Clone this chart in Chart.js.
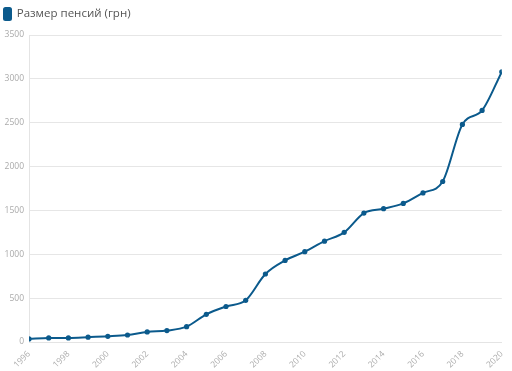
<!DOCTYPE html>
<html>
<head>
<meta charset="utf-8">
<script src="https://cdn.jsdelivr.net/npm/chart.js@4"></script>
<style>
  html, body { margin: 0; padding: 0; background: #fff; }
  #wrap { width: 512px; height: 371px; }
</style>
</head>
<body>
<div id="wrap"><canvas id="chart"></canvas></div>
<script>
const years = [1996, 1997, 1998, 1999, 2000, 2001, 2002, 2003, 2004, 2005, 2006, 2007, 2008,
  2009, 2010, 2011, 2012, 2013, 2014, 2015, 2016, 2017, 2018, 2019, 2020];
const pensions = [35, 47, 47, 55, 65, 80, 115, 130, 175, 315, 405, 475, 775,
  930, 1030, 1150, 1250, 1470, 1520, 1580, 1700, 1830, 2480, 2640, 3080];
const seriesLabel = "Размер пенсий (грн)";
const yTicks = [0, 500, 1000, 1500, 2000, 2500, 3000, 3500];

const blue = "#0b5a8c";

new Chart(document.getElementById("chart"), {
  type: "line",
  data: {
    labels: years,
    datasets: [{
      label: seriesLabel,
      data: pensions,
      borderColor: blue,
      backgroundColor: blue,
      borderWidth: 2,
      pointRadius: 2.6,
      pointBorderWidth: 0,
      pointHoverRadius: 3,
      cubicInterpolationMode: "monotone",
      fill: false,
    }],
  },
  options: {
    responsive: true,
    maintainAspectRatio: false,
    animation: false,
    layout: { padding: { left: 0, right: 8, top: 4, bottom: 0 } },
    scales: {
      x: {
        type: "linear",
        min: 1996,
        max: 2020,
        grid: { display: false, drawTicks: true, tickLength: 4, color: "#e4e4e4" },
        border: { color: "#e4e4e4" },
        ticks: {
          maxRotation: 45,
          minRotation: 45,
          color: "#aaaaaa",
          font: { family: "Open Sans", size: 8.5 },
          callback: (v) => String(v),
        },
        afterBuildTicks: (axis) => {
          axis.ticks = years.filter((y) => y % 2 === 0).map((y) => ({ value: y }));
        },
        afterFit: (axis) => { axis.height = 29; },
      },
      y: {
        min: 0,
        max: 3500,
        grid: { color: "#e6e6e6", drawTicks: false },
        border: { display: false },
        ticks: {
          padding: 5,
          color: "#aaaaaa",
          font: { family: "Open Sans", size: 8.5 },
          callback: (v) => String(v),
        },
        afterBuildTicks: (axis) => {
          axis.ticks = yTicks.map((v) => ({ value: v }));
        },
        afterFit: (axis) => { axis.width = 29; },
      },
    },
    plugins: {
      legend: {
        align: "start",
        labels: {
          boxWidth: 7,
          boxHeight: 12,
          useBorderRadius: true,
          borderRadius: 1.5,
          color: "#555555",
          padding: 4,
          font: { family: "Open Sans", size: 11.5 },
        },
      },
      tooltip: { enabled: false },
    },
  },
  plugins: [{
    id: "legendGap",
    beforeInit(chart) {
      const fit = chart.legend.fit;
      chart.legend.fit = function () {
        fit.bind(chart.legend)();
        this.height += 5;
      };
    },
  }, {
    id: "yAxisLine",
    beforeDatasetsDraw(chart) {
      const { ctx, chartArea } = chart;
      ctx.save();
      ctx.strokeStyle = "#e4e4e4";
      ctx.lineWidth = 1;
      ctx.beginPath();
      ctx.moveTo(chartArea.left + 0.5, chartArea.top);
      ctx.lineTo(chartArea.left + 0.5, chartArea.bottom);
      ctx.stroke();
      ctx.restore();
    },
  }],
});
</script>
</body>
</html>
